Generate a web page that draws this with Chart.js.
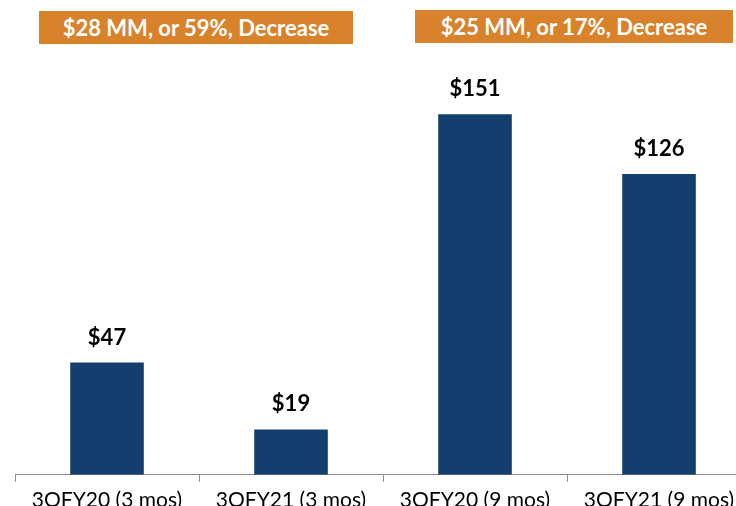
<!DOCTYPE html>
<html lang="en">
<head>
  <meta charset="UTF-8">
  <title>Quarterly Decrease</title>
  <script src="https://cdn.jsdelivr.net/npm/chart.js"></script>
  <style>
    body {
      margin: 0;
      background: #fff;
      overflow: hidden;
    }

    #wrap {
      position: relative;
      width: 736px;
      height: 506px;
      overflow: hidden;
    }

    .banner {
      position: absolute;
      background: #D8822B;
      color: #fff;
      font-family: 'Lato', sans-serif;
      font-weight: 700;
      font-size: 22px;
      height: 33px;
      line-height: 33px;
      text-align: center;
      white-space: nowrap;
    }
  </style>
</head>
<body>
  <div id="wrap">
    <canvas id="chart" width="770" height="519"></canvas>
    <div class="banner" style="left:39px; top:11px; width:314px;">$28 MM, or 59%, Decrease</div>
    <div class="banner" style="left:415px; top:10px; width:318px;">$25 MM, or 17%, Decrease</div>
  </div>

  <script>
    const categories = ["3QFY20 (3 mos)", "3QFY21 (3 mos)", "3QFY20 (9 mos)", "3QFY21 (9 mos)"];
    const values = [47, 19, 151, 126];
    const valueLabels = ["$47", "$19", "$151", "$126"];

    const barColor = "#123F6E";

    // draws the "$xx" label above each bar
    const topLabels = {
      id: 'topLabels',
      afterDatasetsDraw(chart) {
        const ctx = chart.ctx;
        const meta = chart.getDatasetMeta(0);
        ctx.save();
        ctx.font = "bold 22px Lato, sans-serif";
        ctx.fillStyle = "#000";
        ctx.textAlign = "center";
        ctx.textBaseline = "alphabetic";
        meta.data.forEach((bar, i) => {
          ctx.fillText(valueLabels[i], bar.x, bar.y - 18);
        });
        ctx.restore();
      }
    };

    new Chart(document.getElementById("chart"), {
      type: 'bar',
      data: {
        labels: categories,
        datasets: [{
          data: values,
          backgroundColor: barColor,
          categoryPercentage: 0.8,
          barPercentage: 0.5
        }]
      },
      options: {
        responsive: false,
        animation: false,
        layout: {
          padding: { left: 15, right: 19, top: 45, bottom: 0 }
        },
        plugins: {
          legend: { display: false },
          tooltip: { enabled: false }
        },
        scales: {
          x: {
            grid: {
              offset: true,
              drawOnChartArea: false,
              drawTicks: true,
              tickLength: 7,
              color: "#8C8C8C"
            },
            border: { color: "#8C8C8C", width: 1 },
            ticks: {
              color: "#000",
              font: { family: 'Lato, sans-serif', size: 21 },
              padding: 6,
              maxRotation: 0,
              autoSkip: false
            }
          },
          y: {
            display: false,
            min: 0,
            max: 180
          }
        }
      },
      plugins: [topLabels]
    });
  </script>
</body>
</html>
